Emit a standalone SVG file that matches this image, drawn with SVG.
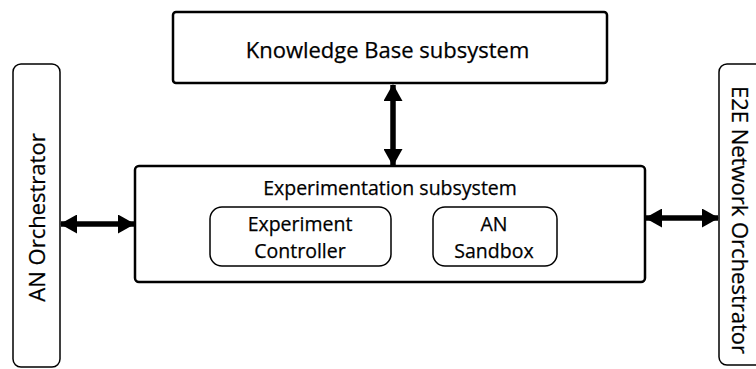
<svg xmlns="http://www.w3.org/2000/svg" width="756" height="369" viewBox="0 0 756 369">
  <defs>
    <style>
      .box { fill: #ffffff; stroke: #000000; stroke-width: 2.5; }
      .inner { fill: #ffffff; stroke: #000000; stroke-width: 1.5; }
      .side { fill: #ffffff; stroke: #000000; stroke-width: 1.5; }
      .lbl { font-family: "Open Sans", "Liberation Sans", sans-serif; fill: #000000; stroke: #000000; stroke-width: 0.25; text-anchor: middle; }
      .big { font-size: 22px; }
      .mid { font-size: 19.5px; }
      .small { font-size: 19.5px; }
      .link { stroke: #000000; stroke-width: 5.5; fill: none; marker-start: url(#head); marker-end: url(#head); }
    </style>
    <marker id="head" markerUnits="userSpaceOnUse" viewBox="0 0 17 19" refX="16" refY="9.5" markerWidth="17" markerHeight="19" orient="auto-start-reverse">
      <path d="M0,0 L17,9.5 L0,19 Z" fill="#000000"/>
    </marker>
  </defs>

  <!-- side orchestrators -->
  <g id="an-orchestrator">
    <rect class="side" x="13" y="64" width="47" height="303" rx="8"/>
    <text class="lbl big" transform="translate(45,217.5) rotate(-90)">AN Orchestrator</text>
  </g>
  <g id="e2e-orchestrator">
    <rect class="side" x="719" y="64" width="50" height="301" rx="8"/>
    <text class="lbl big" transform="translate(732,220) rotate(90)">E2E Network Orchestrator</text>
  </g>

  <!-- knowledge base -->
  <g id="knowledge-base">
    <rect class="box" x="173" y="12" width="434" height="71" rx="3"/>
    <text class="lbl big" x="387.5" y="58">Knowledge Base subsystem</text>
  </g>

  <!-- experimentation subsystem with its two components -->
  <g id="experimentation">
    <rect class="box" x="135" y="166" width="510" height="116" rx="4"/>
    <text class="lbl mid" x="390" y="195">Experimentation subsystem</text>
  </g>
  <g id="experiment-controller">
    <rect class="inner" x="210" y="207" width="181" height="59" rx="12"/>
    <text class="lbl small" x="300" y="231">Experiment</text>
    <text class="lbl small" x="300" y="258">Controller</text>
  </g>
  <g id="an-sandbox">
    <rect class="inner" x="433" y="207" width="124" height="59" rx="12"/>
    <text class="lbl small" x="494" y="231">AN</text>
    <text class="lbl small" x="494" y="258">Sandbox</text>
  </g>

  <!-- bidirectional links -->
  <g id="connectors">
    <line class="link" x1="393" y1="85" x2="393" y2="165"/>
    <line class="link" x1="61" y1="224" x2="134" y2="224"/>
    <line class="link" x1="646" y1="218" x2="718" y2="218"/>
  </g>
</svg>
